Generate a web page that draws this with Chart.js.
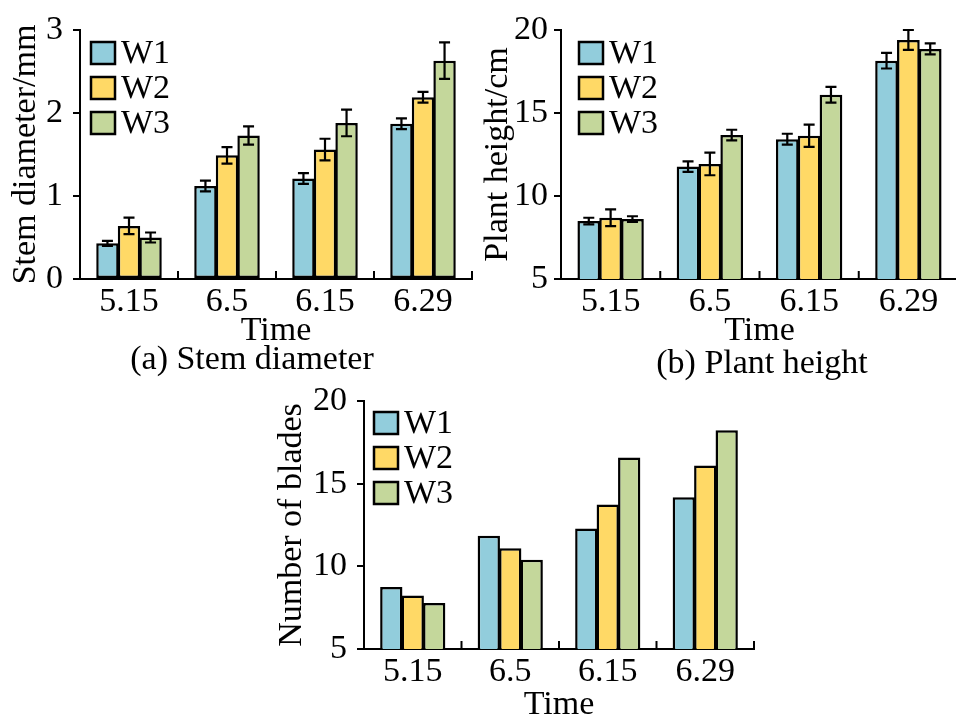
<!DOCTYPE html>
<html>
<head>
<meta charset="utf-8">
<script src="https://cdn.jsdelivr.net/npm/chart.js@4.4.0/dist/chart.umd.min.js"></script>
<style>
html, body { margin: 0; padding: 0; background: #fff; overflow: hidden; }
body { width: 956px; height: 714px; position: relative; }
canvas { position: absolute; }
.caption {
    position: absolute;
    font-family: "Liberation Serif", "Times New Roman", serif;
    font-size: 34px;
    line-height: 34px;
    color: #000;
    white-space: nowrap;
    transform: translate(-50%, -50%);
}
</style>
</head>
<body>
<canvas id="stemChart" width="478" height="348" style="left:0;top:0"></canvas>
<canvas id="heightChart" width="484" height="348" style="left:476px;top:0"></canvas>
<canvas id="bladeChart" width="500" height="350" style="left:260px;top:372px"></canvas>
<div class="caption" style="left:252px;top:358px">(a) Stem diameter</div>
<div class="caption" style="left:762px;top:362px">(b) Plant height</div>
<script>
const categories = ["5.15", "6.5", "6.15", "6.29"];
const seriesNames = ["W1", "W2", "W3"];
const colors = ["#92cddc", "#ffd966", "#c4d79b"];

// stem diameter (mm) and error
const stemW1 = [0.43, 1.12, 1.21, 1.87];
const stemW2 = [0.64, 1.49, 1.56, 2.19];
const stemW3 = [0.50, 1.73, 1.88, 2.63];
const stemW1Err = [0.03, 0.065, 0.065, 0.065];
const stemW2Err = [0.10, 0.10, 0.13, 0.065];
const stemW3Err = [0.06, 0.11, 0.16, 0.22];

// plant height (cm) and error
const heightW1 = [8.49, 11.77, 13.42, 18.15];
const heightW2 = [8.69, 11.93, 13.63, 19.40];
const heightW3 = [8.61, 13.67, 16.10, 18.86];
const heightW1Err = [0.20, 0.32, 0.33, 0.47];
const heightW2Err = [0.50, 0.68, 0.67, 0.60];
const heightW3Err = [0.17, 0.32, 0.47, 0.33];

// number of blades
const bladesW1 = [8.75, 11.85, 12.29, 14.18];
const bladesW2 = [8.24, 11.10, 13.74, 16.10];
const bladesW3 = [7.78, 10.40, 16.58, 18.23];

Chart.defaults.font.family = '"Liberation Serif", "Times New Roman", serif';
Chart.defaults.font.size = 34;
Chart.defaults.color = "#000";

const errorBars = {
    id: "errorBars",
    afterDatasetsDraw(chart) {
        const ctx = chart.ctx;
        const y = chart.scales.y;
        ctx.save();
        ctx.strokeStyle = "#000";
        ctx.lineWidth = 2.2;
        chart.data.datasets.forEach((ds, i) => {
            if (!ds.errors) return;
            chart.getDatasetMeta(i).data.forEach((bar, j) => {
                const top = y.getPixelForValue(ds.data[j] + ds.errors[j]);
                const bot = y.getPixelForValue(ds.data[j] - ds.errors[j]);
                ctx.beginPath();
                ctx.moveTo(bar.x, top); ctx.lineTo(bar.x, bot);
                ctx.moveTo(bar.x - 5.5, top); ctx.lineTo(bar.x + 5.5, top);
                ctx.moveTo(bar.x - 5.5, bot); ctx.lineTo(bar.x + 5.5, bot);
                ctx.stroke();
            });
        });
        ctx.restore();
    }
};

// short upward ticks between categories on the x axis
const groupTicks = {
    id: "groupTicks",
    afterDraw(chart) {
        const x = chart.scales.x;
        const ctx = chart.ctx;
        const bottom = chart.chartArea.bottom;
        const step = x.getPixelForValue(1) - x.getPixelForValue(0);
        ctx.save();
        ctx.strokeStyle = "#000";
        ctx.lineWidth = 2;
        for (let i = 1; i <= categories.length; i++) {
            const px = x.getPixelForValue(i - 1) + step / 2;
            ctx.beginPath();
            ctx.moveTo(px, bottom);
            ctx.lineTo(px, bottom - 8);
            ctx.stroke();
        }
        ctx.restore();
    }
};

function boxLegend(dx, dy) {
    return {
        id: "boxLegend",
        afterDraw(chart) {
            const ctx = chart.ctx;
            const left = chart.chartArea.left + dx;
            let top = chart.chartArea.top + dy;
            ctx.save();
            ctx.font = '34px "Liberation Serif", "Times New Roman", serif';
            ctx.textBaseline = "middle";
            chart.data.datasets.forEach((ds) => {
                ctx.fillStyle = ds.backgroundColor;
                ctx.fillRect(left, top, 24, 22);
                ctx.strokeStyle = "#000";
                ctx.lineWidth = 2.5;
                ctx.strokeRect(left, top, 24, 22);
                ctx.fillStyle = "#000";
                ctx.fillText(ds.label, left + 30, top + 12);
                top += 35;
            });
            ctx.restore();
        }
    };
}

function makeChart(id, values, errors, yOpts, layout) {
    const datasets = values.map((v, i) => ({
        label: seriesNames[i],
        data: v,
        errors: errors ? errors[i] : null,
        backgroundColor: colors[i],
        borderColor: "#000",
        borderWidth: 2.5,
        borderSkipped: false,
        categoryPercentage: 0.66,
        barPercentage: 1.04,
    }));

    return new Chart(document.getElementById(id), {
        type: "bar",
        data: { labels: categories, datasets: datasets },
        plugins: [errorBars, groupTicks, boxLegend(layout.legendX, layout.legendY)],
        options: {
            responsive: false,
            animation: false,
            layout: { padding: layout.padding },
            plugins: { legend: { display: false }, tooltip: { enabled: false } },
            scales: {
                x: {
                    grid: { drawOnChartArea: false, drawTicks: false },
                    border: { color: "#000", width: 2 },
                    ticks: { padding: 6, font: { size: 34, lineHeight: 1 } },
                    title: { display: true, text: "Time", padding: 0, font: { size: 34, lineHeight: 1 } },
                    afterFit: (scale) => { scale.height = layout.xHeight; },
                },
                y: {
                    min: yOpts.min,
                    max: yOpts.max,
                    grid: { drawOnChartArea: false, drawTicks: true, tickLength: 7, color: "#000", lineWidth: 2 },
                    border: { color: "#000", width: 2 },
                    ticks: { stepSize: yOpts.step, padding: layout.tickPad, font: { size: 34, lineHeight: 1 } },
                    title: { display: true, text: yOpts.title, padding: 0, font: { size: 34, lineHeight: 1 } },
                    afterFit: (scale) => { scale.width = layout.yWidth; },
                },
            },
        },
    });
}

makeChart("stemChart",
    [stemW1, stemW2, stemW3],
    [stemW1Err, stemW2Err, stemW3Err],
    { min: 0, max: 3, step: 1, title: "Stem diameter/mm" },
    { padding: { left: 9, top: 30, right: 6, bottom: 0 }, yWidth: 71, xHeight: 69, tickPad: 10, legendX: 11, legendY: 12 });

makeChart("heightChart",
    [heightW1, heightW2, heightW3],
    [heightW1Err, heightW2Err, heightW3Err],
    { min: 5, max: 20, step: 5, title: "Plant height/cm" },
    { padding: { left: 5, top: 30, right: 2, bottom: 0 }, yWidth: 80, xHeight: 69, tickPad: 6, legendX: 18, legendY: 12 });

makeChart("bladeChart",
    [bladesW1, bladesW2, bladesW3],
    null,
    { min: 5, max: 20, step: 5, title: "Number of blades" },
    { padding: { left: 15, top: 29, right: 6, bottom: 0 }, yWidth: 89, xHeight: 73, tickPad: 10, legendX: 10, legendY: 11 });
</script>
</body>
</html>
